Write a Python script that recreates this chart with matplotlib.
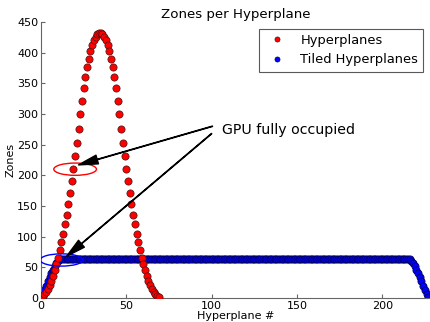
import matplotlib
matplotlib.use("Agg")
import matplotlib.pyplot as plt
from matplotlib.patches import Ellipse

# Hyperplanes (red): zones per hyperplane index 0..69
hyper_x = list(range(70))
hyper_left = [1, 3, 6, 10, 15, 21, 28, 36, 45, 55, 66, 78, 91, 105, 120, 136, 153,
              171, 190, 210, 231, 253, 276, 300, 322, 342, 360, 376, 390, 402, 412,
              420, 426, 430, 432]
hyper_y = hyper_left + hyper_left[::-1]

# Tiled hyperplanes (blue): index 0..227
tiled_x = list(range(228))
tiled_ramp = [1, 6, 13, 20, 27, 34, 40, 46, 52, 57, 61, 63]
tiled_flat = [64] * (228 - 2 * len(tiled_ramp))
tiled_y = tiled_ramp + tiled_flat + tiled_ramp[::-1]

xticks = [0, 50, 100, 150, 200]
yticks = [0, 50, 100, 150, 200, 250, 300, 350, 400, 450]

fig = plt.figure(figsize=(4.3, 3.22), dpi=100)
ax = fig.add_axes([41/430, 1 - 298/322, 389/430, 276/322])

ax.plot(tiled_x, tiled_y, 'o', color='#0000ff', mec='#000044', mew=0.5,
        ms=5.2, label='Tiled Hyperplanes', zorder=2)
ax.plot(hyper_x, hyper_y, 'o', color='#ff0000', mec='#441111', mew=0.5,
        ms=5.2, label='Hyperplanes', zorder=3)

ax.add_patch(Ellipse((20, 210), 25, 20, fill=False, edgecolor='#ff0000', lw=1.0, zorder=4))
ax.add_patch(Ellipse((12, 62), 25, 20, fill=False, edgecolor='#0000ff', lw=1.0, zorder=4))

arrow = dict(facecolor='black', edgecolor='black', width=0.3, headwidth=6.5,
             headlength=14, shrink=0)
ax.annotate('', xy=(22, 217), xytext=(100.5, 280), arrowprops=arrow, zorder=5)
ax.annotate('', xy=(15, 68), xytext=(100, 268), arrowprops=arrow, zorder=5)
ax.text(106, 274, 'GPU fully occupied', fontsize=10.2, va='center', ha='left')

ax.set_xlim(0, 228)
ax.set_ylim(0, 450)
ax.set_xticks(xticks)
ax.set_yticks(yticks)
ax.tick_params(direction='in', length=3, color='0.4', labelsize=8, pad=2)
for s in ['top', 'right']:
    ax.spines[s].set_visible(False)
for s in ['left', 'bottom']:
    ax.spines[s].set_color('0.4')

ax.set_title('Zones per Hyperplane', fontsize=9.6, pad=3)
ax.set_xlabel('Hyperplane #', fontsize=8, labelpad=0)
ax.set_ylabel('Zones', fontsize=8, labelpad=1)

h, l = ax.get_legend_handles_labels()
leg = ax.legend(h[::-1], l[::-1], loc='upper right', numpoints=1, markerscale=0.7,
                fontsize=9.4, fancybox=False, framealpha=1, edgecolor='0.35')
leg.get_frame().set_linewidth(0.8)

fig.savefig('out.png', dpi=100)
